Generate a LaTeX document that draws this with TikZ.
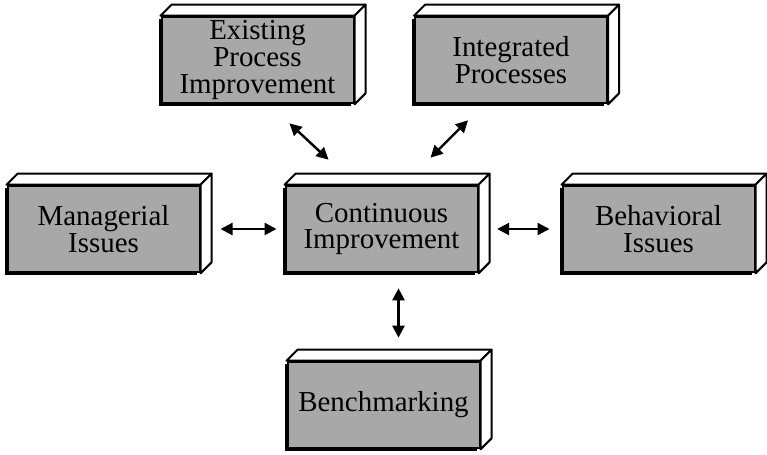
\documentclass[tikz,border=0pt]{standalone}
\usepackage{fontspec}
\setmainfont{Liberation Serif}
\usetikzlibrary{arrows.meta,shadows}

\begin{document}
\begin{tikzpicture}[x=0.75pt, y=-0.75pt,
  every node/.style={font=\fontsize{21.7}{20}\selectfont},
  block/.style={draw, line width=1.5pt, fill=black!34, minimum width=144pt,
    minimum height=65pt, inner sep=0pt, align=center,
    drop shadow={shadow xshift=-2pt, shadow yshift=-2pt, fill=black, opacity=1}},
  face/.style={draw, line width=1.5pt, fill=white, line join=round},
  link/.style={{Triangle[length=9pt,width=9pt]}-{Triangle[length=9pt,width=9pt]}, line width=1.8pt}]

\path[use as bounding box] (0,0) rectangle (767,454);

% Front faces
\node[block] (epi) at (257.5,60) {Existing\\Process\\Improvement};
\node[block] (ip)  at (511,60)   {Integrated\\Processes};
\node[block] (mi)  at (103.5,229) {Managerial\\Issues};
\node[block] (ci)  at (381.5,229) {Continuous\\Improvement};
\node[block] (bi)  at (658.5,229) {Behavioral\\Issues};
\node[block] (bm)  at (383.5,405) {Benchmarking};

% Top and side faces
\foreach \b in {epi,ip,mi,ci,bi,bm} {
  \draw[face] (\b.north west) -- ++(11,-11) -- ([shift={(11,-11)}]\b.north east)
    -- (\b.north east) -- cycle;
  \draw[face] (\b.north east) -- ++(11,-11) -- ([shift={(11,-11)}]\b.south east)
    -- (\b.south east) -- cycle;
}

% Links
\draw[link] ([shift={(32,19)}]epi.south) -- ([shift={(-53,-25)}]ci.north);
\draw[link] ([shift={(-43,16)}]ip.south) -- ([shift={(49,-27)}]ci.north);
\draw[link, shorten <=15pt, shorten >=6pt] (mi) -- (ci);
\draw[link, shorten <=14pt, shorten >=9pt] (ci) -- (bi);
\draw[link] ([shift={(17,15)}]ci.south) -- ([shift={(15,-23)}]bm.north);
\end{tikzpicture}
\end{document}
